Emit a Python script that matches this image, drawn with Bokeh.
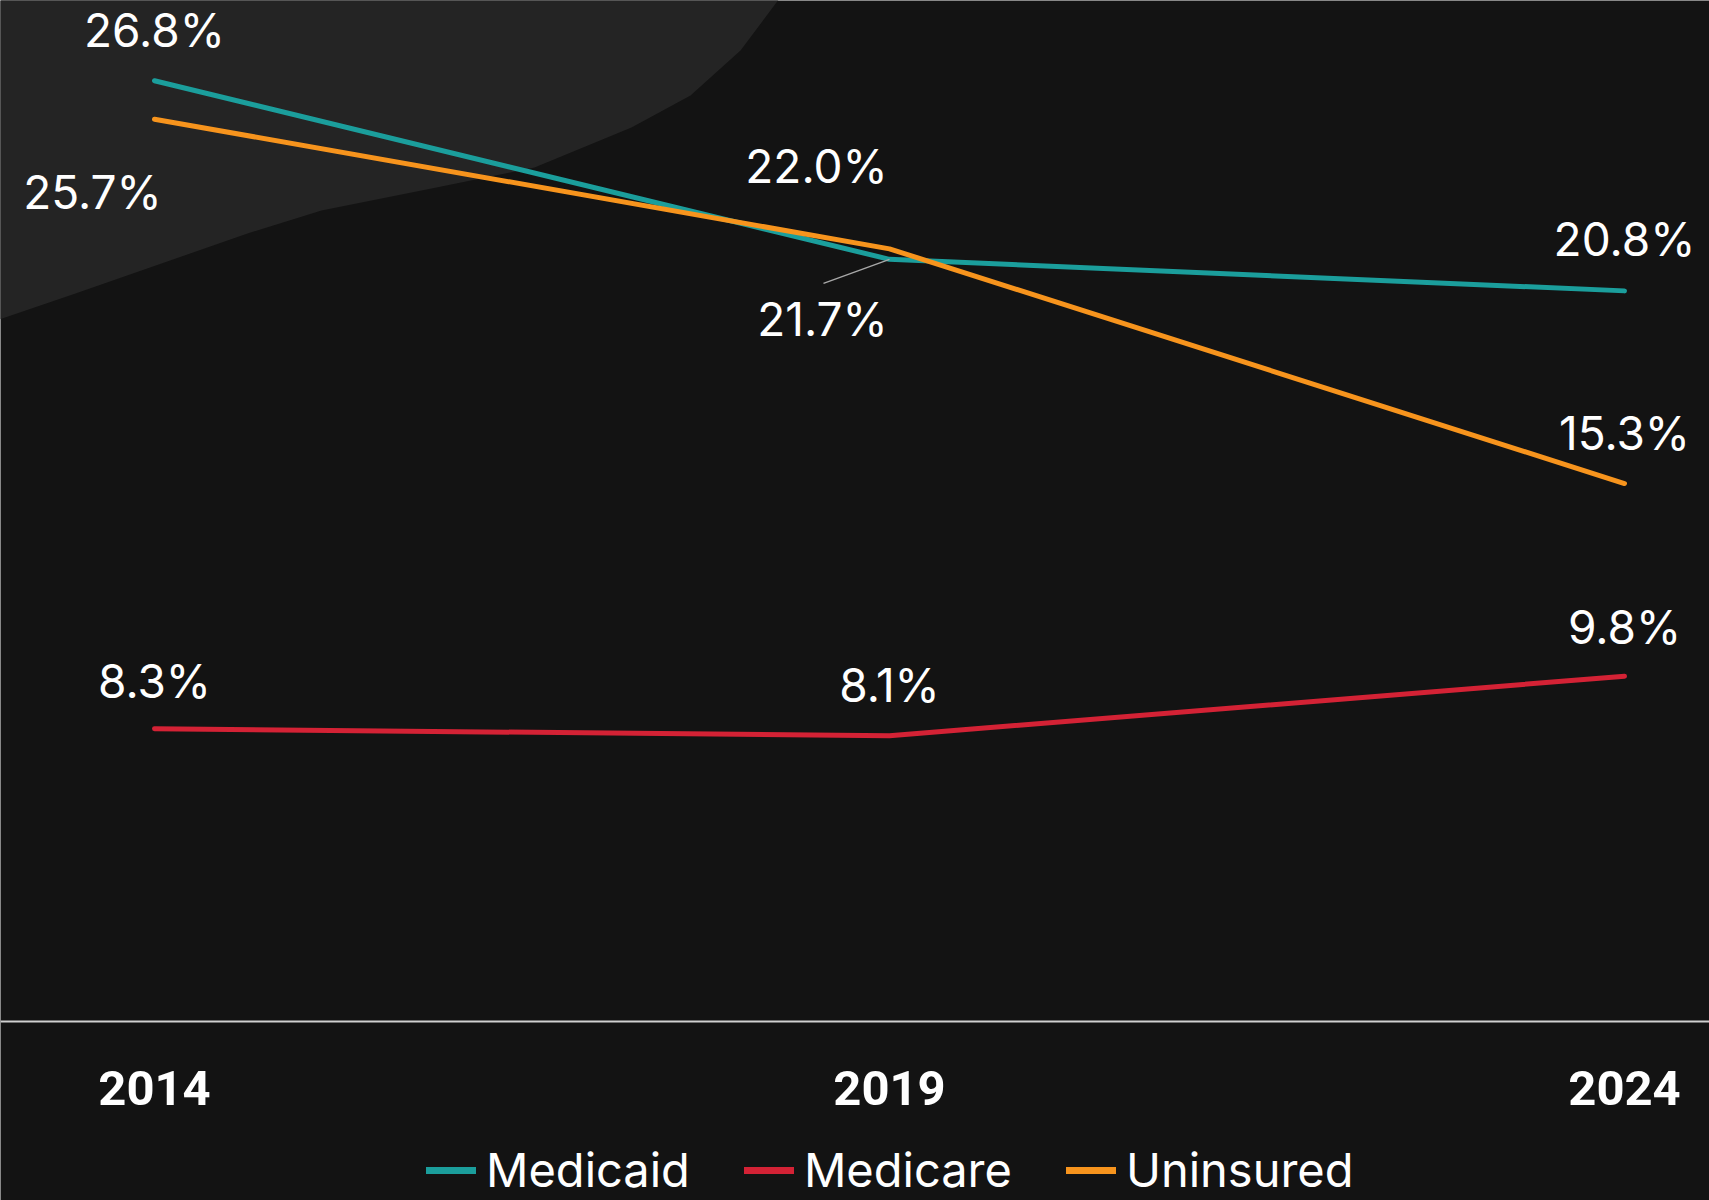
from bokeh.plotting import figure
from bokeh.models import ColumnDataSource, FixedTicker, Legend, LegendItem, PolyAnnotation
from bokeh.core.properties import value
from bokeh.embed import file_html
from bokeh.resources import INLINE

# ---------------- data ----------------
years = [2014, 2019, 2024]
tick_labels = ["2014", "2019", "2024"]
series_names = ["Medicaid", "Medicare", "Uninsured"]
medicaid = [26.8, 21.7, 20.8]
medicare = [8.3, 8.1, 9.8]
uninsured = [25.7, 22.0, 15.3]

# ---------------- style ----------------
BG = "#131313"
colors = {"Medicaid": "#1b9e9c", "Medicare": "#d42235", "Uninsured": "#f7941d"}
label_dx = {"Medicaid": [0, -67, 0], "Medicare": [0, 0, 0], "Uninsured": [-62, -73, 0]}
label_dy = {"Medicaid": [-51, 60, -52], "Medicare": [-48, -51, -49], "Uninsured": [73, -83, -51]}

W, H = 1709, 1200
PX_YEAR = 147.0
PX_PCT = 35.03
x_start = 2014 - 154 / PX_YEAR
x_end = x_start + W / PX_YEAR
y_end = 1019 / PX_PCT
y_start = y_end - H / PX_PCT

p = figure(width=W, height=H, x_range=(x_start, x_end), y_range=(y_start, y_end),
           output_backend="svg", toolbar_location=None,
           min_border_left=0, min_border_right=0, min_border_top=0, min_border_bottom=0,
           y_axis_location=None, background_fill_color=BG, border_fill_color=BG,
           outline_line_color=None)
p.grid.visible = False

# decorative lighter background region (top-left), given in screen px
shade_px = [(-10, -10), (785, -10), (740, 50), (690, 95), (631, 127), (534, 167), (436, 187),
            (321, 210), (247, 233), (75, 293), (-10, 322)]
p.add_layout(PolyAnnotation(
    xs=[x_start + sx / PX_YEAR for sx, sy in shade_px],
    ys=[y_end - sy / PX_PCT for sx, sy in shade_px],
    fill_color="#242424", fill_alpha=1.0, line_alpha=0, level="underlay"))

data = {"Medicaid": medicaid, "Medicare": medicare, "Uninsured": uninsured}

for name in series_names:
    src = ColumnDataSource(dict(x=years, y=data[name]))
    p.line("x", "y", source=src, line_color=colors[name], line_width=5,
           line_cap="round", line_join="round")

# leader line for the 21.7% label
p.segment(x0=[years[1]], y0=[medicaid[1]],
          x1=[years[1] - 66 / PX_YEAR], y1=[medicaid[1] - 24 / PX_PCT],
          line_color="#a8a8a8", line_width=1.5)

for name in series_names:
    src = ColumnDataSource(dict(x=years, y=data[name],
                                t=[f"{v:.1f}%" for v in data[name]],
                                dx=label_dx[name], dy=label_dy[name]))
    p.text("x", "y", text="t", source=src, x_offset="dx", y_offset="dy",
           text_align="center", text_baseline="alphabetic",
           text_font=value("Inter"), text_font_size="46px", text_color="white")

# axis (baseline at y = 0)
ax = p.xaxis[0]
ax.fixed_location = -2 / PX_PCT
ax.ticker = FixedTicker(ticks=years)
ax.major_label_overrides = {y: l for y, l in zip(years, tick_labels)}
ax.major_label_text_font = "Roboto"
ax.major_label_text_font_style = "bold"
ax.major_label_text_font_size = "49px"
ax.major_label_text_color = "white"
ax.major_label_standoff = 43
ax.major_tick_line_color = None
ax.minor_tick_line_color = None
ax.axis_line_color = "#d0d0d0"
ax.axis_line_width = 2

# legend (proxy renderers carry the legend swatch style)
items = []
for name in series_names:
    proxy = p.line(x=[float("nan")], y=[float("nan")], line_color=colors[name],
                   line_width=7, line_cap="round")
    items.append(LegendItem(label=name, renderers=[proxy]))
legend = Legend(items=items, location=(426, 2), orientation="horizontal",
                glyph_width=50, glyph_height=20, label_standoff=10, spacing=54,
                padding=0, margin=0, background_fill_alpha=0, border_line_alpha=0,
                label_text_font="Inter", label_text_font_size="47px",
                label_text_color="white")
p.add_layout(legend)

open("out.html", "w").write(file_html(p, INLINE))
